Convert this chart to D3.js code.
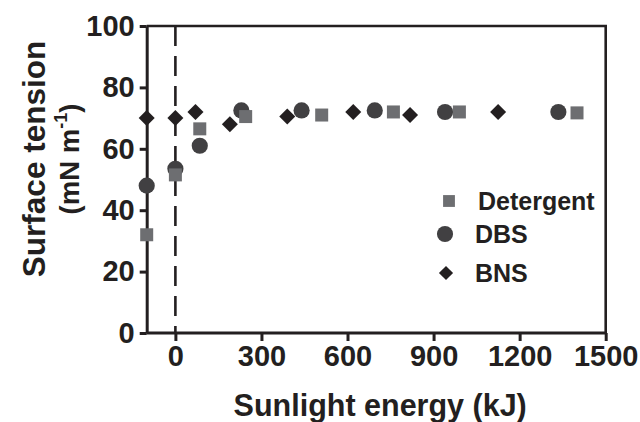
<!DOCTYPE html>
<html><head><meta charset="utf-8">
<script src="https://cdn.jsdelivr.net/npm/d3@7"></script>
<style>
html,body{margin:0;padding:0;background:#fff;}
svg{display:block;font-family:"Liberation Sans",Arial,Helvetica,sans-serif;font-weight:bold;}
</style></head>
<body>
<svg id="c" width="640" height="422"></svg>
<script>
// ---- data ----
const seriesNames = ["Detergent", "DBS", "BNS"];
const detergentX = [-100, 0, 85, 245, 510, 760, 990, 1400];
const detergentY = [32, 51.5, 66.5, 70.5, 71, 72, 72, 71.7];
const dbsX = [-100, 0, 85, 230, 440, 695, 940, 1335];
const dbsY = [48, 53.5, 61, 72.5, 72.5, 72.5, 72, 72];
const bnsX = [-100, 0, 70, 190, 390, 620, 818, 1125];
const bnsY = [70, 70, 72, 68, 70.5, 72, 71, 72];
const xTicks = [0, 300, 600, 900, 1200, 1500];
const yTicks = [0, 20, 40, 60, 80, 100];

const svg = d3.select("#c");
const L = 146.7, R = 605.7, T = 26, B = 333;
const x = d3.scaleLinear().domain([-100, 1500]).range([L, R]);
const y = d3.scaleLinear().domain([0, 100]).range([B, T]);
const ink = "#231f20";

// dashed line at x = 0
svg.append("line").attr("x1", x(0)).attr("x2", x(0)).attr("y1", T).attr("y2", B)
  .attr("stroke", ink).attr("stroke-width", 2.6).attr("stroke-dasharray", "20,10");

// frame top/right
svg.append("path").attr("d", `M${L},${T}H${R}V${B}`).attr("fill", "none")
  .attr("stroke", ink).attr("stroke-width", 2.6);

const fs = 29;
const yAxis = svg.append("g").attr("transform", `translate(${L},0)`)
  .call(d3.axisLeft(y).tickValues(yTicks).tickFormat(d3.format("d")).tickSize(7).tickSizeOuter(0).tickPadding(5));
const xAxis = svg.append("g").attr("transform", `translate(0,${B})`)
  .call(d3.axisBottom(x).tickValues(xTicks).tickFormat(d3.format("d")).tickSize(8).tickSizeOuter(0).tickPadding(4));
[yAxis, xAxis].forEach(a => {
  a.select(".domain").attr("stroke", ink).attr("stroke-width", 3);
  a.selectAll(".tick line").attr("stroke", ink).attr("stroke-width", 3);
  a.selectAll(".tick text").attr("fill", ink).attr("font-size", fs)
    .attr("font-family", "Liberation Sans, Arial, sans-serif").attr("font-weight", "bold");
});
xAxis.select(".domain").attr("d", `M${L},0H${R}`);

// axis titles
svg.append("text").attr("x", (L + R) / 2 + 4).attr("y", 416).attr("text-anchor", "middle")
  .attr("font-size", 30.5).attr("fill", ink).text("Sunlight energy (kJ)");
const yt = svg.append("g").attr("transform", "translate(0,159) rotate(-90)");
yt.append("text").attr("x", 0).attr("y", 45).attr("text-anchor", "middle")
  .attr("font-size", 31.5).attr("fill", ink).text("Surface tension");
const t2 = yt.append("text").attr("x", 0).attr("y", 79).attr("text-anchor", "middle")
  .attr("font-size", 27.5).attr("fill", ink);
t2.append("tspan").text("(mN m");
t2.append("tspan").attr("font-size", 18).attr("dy", -12).text("-1");
t2.append("tspan").attr("dy", 12).text(")");

// markers
const sym = {
  Detergent: { type: d3.symbolSquare, size: 169, rot: 0, color: "#6d6e71" },
  DBS: { type: d3.symbolCircle, size: 205, rot: 0, color: "#414042" },
  BNS: { type: d3.symbolSquare, size: 128, rot: 45, color: ink }
};
const series = {
  Detergent: detergentX.map((v, i) => [v, detergentY[i]]),
  DBS: dbsX.map((v, i) => [v, dbsY[i]]),
  BNS: bnsX.map((v, i) => [v, bnsY[i]])
};
["DBS", "Detergent", "BNS"].forEach(name => {
  const s = sym[name];
  svg.append("g").selectAll("path").data(series[name]).join("path")
    .attr("transform", d => `translate(${x(d[0])},${y(d[1])}) rotate(${s.rot})`)
    .attr("d", d3.symbol().type(s.type).size(s.size)())
    .attr("fill", s.color);
});

// legend
const leg = [
  { name: "Detergent", mx: 449, tx: 478, cy: 201, size: 140 },
  { name: "DBS", mx: 445, tx: 475, cy: 234, size: 205 },
  { name: "BNS", mx: 446, tx: 475, cy: 273, size: 100 }
];
leg.forEach(l => {
  const s = sym[l.name];
  svg.append("path").attr("transform", `translate(${l.mx},${l.cy}) rotate(${s.rot})`)
    .attr("d", d3.symbol().type(s.type).size(l.size)()).attr("fill", s.color);
  svg.append("text").attr("x", l.tx).attr("y", l.cy).attr("dy", "0.36em")
    .attr("font-size", 25).attr("fill", ink).text(l.name);
});
</script>
</body></html>
